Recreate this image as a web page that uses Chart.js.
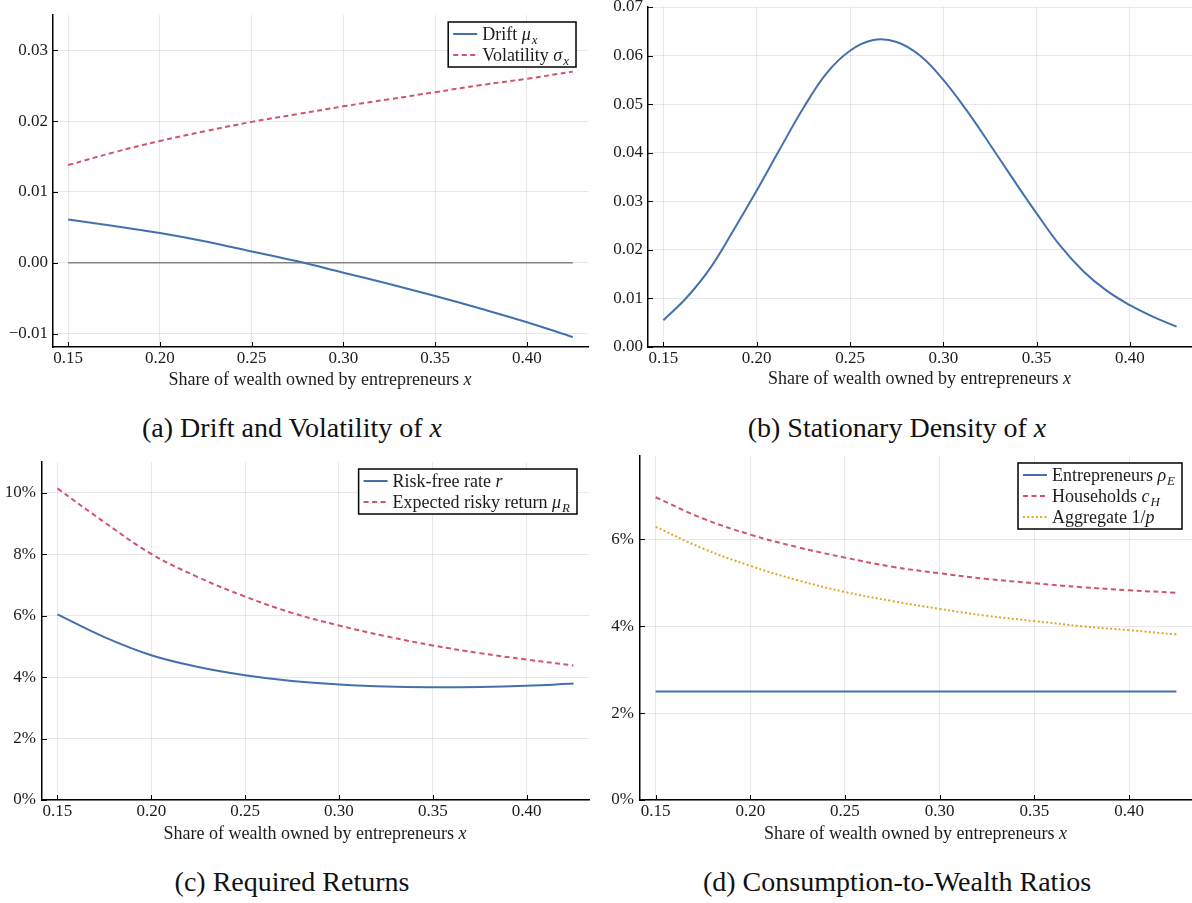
<!DOCTYPE html>
<html>
<head>
<meta charset="utf-8">
<script src="https://cdn.jsdelivr.net/npm/chart.js@4.4.1/dist/chart.umd.min.js"></script>
<style>
  html, body { margin: 0; padding: 0; background: #fff; }
  body { width: 1192px; height: 903px; position: relative; overflow: hidden;
         font-family: 'Liberation Serif', 'Times New Roman', serif; }
  canvas { position: absolute; }
  .cap { position: absolute; width: 596px; text-align: center; font-size: 28px;
         line-height: 32px; color: #111; white-space: nowrap; }
</style>
</head>
<body>
<canvas id="chartA" width="596" height="400" style="left:0;top:0"></canvas>
<canvas id="chartB" width="596" height="400" style="left:596px;top:0"></canvas>
<canvas id="chartC" width="596" height="400" style="left:0;top:450px"></canvas>
<canvas id="chartD" width="596" height="400" style="left:596px;top:450px"></canvas>
<div class="cap" style="left:-6px;top:412px">(a) Drift and Volatility of <i>x</i></div>
<div class="cap" style="left:599px;top:412px">(b) Stationary Density of <i>x</i></div>
<div class="cap" style="left:-6px;top:866px">(c) Required Returns</div>
<div class="cap" style="left:599px;top:866px">(d) Consumption-to-Wealth Ratios</div>

<script>
// ---- data ----
const xTicks = [0.15, 0.20, 0.25, 0.30, 0.35, 0.40];
const xAxisTitle = 'Share of wealth owned by entrepreneurs $x$';

// (a) drift and volatility of x
const xA = [0.15, 0.175, 0.20, 0.225, 0.25, 0.275, 0.30, 0.325, 0.35, 0.375, 0.40, 0.425];
const driftMu  = [0.0061, 0.0052, 0.0042, 0.0030, 0.0016, 0.0002, -0.0014, -0.0030, -0.0047, -0.0065, -0.0084, -0.0105];
const volSigma = [0.0138, 0.0156, 0.0172, 0.0186, 0.0199, 0.0210, 0.0221, 0.0231, 0.0241, 0.0251, 0.0260, 0.0270];
const zeroX = [0.15, 0.425];
const zeroY = [0, 0];
const yTicksA = [-0.01, 0.00, 0.01, 0.02, 0.03];

// (b) stationary density of x
const xB = [0.15, 0.1625, 0.175, 0.1875, 0.20, 0.2125, 0.225, 0.2375, 0.25, 0.2625, 0.275, 0.2875,
            0.30, 0.3125, 0.325, 0.3375, 0.35, 0.3625, 0.375, 0.3875, 0.40, 0.4125, 0.425];
const density = [0.0055, 0.0102, 0.0162, 0.0240, 0.0322, 0.0408, 0.0492, 0.0564, 0.0610, 0.0632, 0.0628, 0.0600,
                 0.0550, 0.0487, 0.0417, 0.0345, 0.0275, 0.0209, 0.0156, 0.0116, 0.0086, 0.0062, 0.0042];
const yTicksB = [0.00, 0.01, 0.02, 0.03, 0.04, 0.05, 0.06, 0.07];

// (c) required returns
const xC = [0.15, 0.175, 0.20, 0.225, 0.25, 0.275, 0.30, 0.325, 0.35, 0.375, 0.40, 0.425];
const riskFree    = [0.0604, 0.0530, 0.0471, 0.0433, 0.0406, 0.0387, 0.0376, 0.0369, 0.0367, 0.0368, 0.0372, 0.0379];
const riskyReturn = [0.1014, 0.0904, 0.0801, 0.0725, 0.0662, 0.0609, 0.0568, 0.0533, 0.0503, 0.0478, 0.0457, 0.0438];
const yTicksC = [0.00, 0.02, 0.04, 0.06, 0.08, 0.10];

// (d) consumption-to-wealth ratios
const xD = [0.15, 0.175, 0.20, 0.225, 0.25, 0.275, 0.30, 0.325, 0.35, 0.375, 0.40, 0.425];
const entrepreneursRho = [0.025, 0.025, 0.025, 0.025, 0.025, 0.025, 0.025, 0.025, 0.025, 0.025, 0.025, 0.025];
const householdsC      = [0.0697, 0.0648, 0.0611, 0.0582, 0.0558, 0.0537, 0.0522, 0.0509, 0.0499, 0.0490, 0.0483, 0.0477];
const aggregateP       = [0.0629, 0.0579, 0.0539, 0.0506, 0.0479, 0.0458, 0.0440, 0.0424, 0.0412, 0.0400, 0.0391, 0.0381];
const yTicksD = [0.00, 0.02, 0.04, 0.06];

// ---- styling ----
const SERIF = "'Liberation Serif', 'Times New Roman', serif";
const BLUE = '#4471ad';
const RED = '#d0556a';
const GOLD = '#e3a625';
const GRID = 'rgba(0,0,0,0.09)';
const TEXT = '#1c1c1c';
const TICK_FONT = { family: SERIF, size: 17 };
Chart.defaults.font.family = SERIF;
Chart.defaults.color = TEXT;

const pts = (xs, ys) => xs.map((x, i) => ({ x, y: ys[i] }));
const fmtDec = v => (v < 0 ? '\u2212' : '') + Math.abs(v).toFixed(2);
const fmtPct = v => Math.round(v * 100) + '%';

// ---- small math-text helper: $...$ is math (letters italic, "_" starts a subscript) ----
function parseRuns(str) {
  const runs = [];
  str.split('$').forEach((p, i) => {
    if (!p) return;
    if (i % 2 === 0) { runs.push({ t: p, it: false, sub: false }); return; }
    const [base, sub] = p.split('_');
    for (const ch of base) runs.push({ t: ch, it: /[A-Za-z\u03b1-\u03c9]/.test(ch), sub: false });
    if (sub) runs.push({ t: sub, it: true, sub: true });
  });
  return runs;
}
function runFont(r, size) {
  return (r.it ? 'italic ' : '') + (r.sub ? size * 0.72 : size) + 'px ' + SERIF;
}
function measureRuns(ctx, runs, size) {
  let w = 0;
  runs.forEach(r => { ctx.font = runFont(r, size); w += ctx.measureText(r.t).width + (r.it && !r.sub ? 1 : 0); });
  return w;
}
function drawRuns(ctx, runs, x, y, size) {
  runs.forEach(r => {
    ctx.font = runFont(r, size);
    ctx.fillText(r.t, x, y + (r.sub ? size * 0.22 : 0));
    x += ctx.measureText(r.t).width + (r.it && !r.sub ? 1 : 0);
  });
}

// ---- plugins ----
const inwardTicks = {
  id: 'inwardTicks',
  afterDatasetsDraw(chart) {
    const { ctx, chartArea: a, scales: { x, y } } = chart;
    ctx.save();
    ctx.strokeStyle = '#000';
    ctx.lineWidth = 1;
    ctx.beginPath();
    x.ticks.forEach(t => {
      const px = Math.round(x.getPixelForValue(t.value)) + 0.5;
      ctx.moveTo(px, a.bottom); ctx.lineTo(px, a.bottom - 5);
    });
    y.ticks.forEach(t => {
      const py = Math.round(y.getPixelForValue(t.value)) + 0.5;
      ctx.moveTo(a.left, py); ctx.lineTo(a.left + 5, py);
    });
    ctx.stroke();
    ctx.restore();
  }
};

const axisTitle = {
  id: 'axisTitle',
  afterDraw(chart, args, opts) {
    const { ctx, chartArea: a } = chart;
    const size = opts.size || 18;
    const runs = parseRuns(opts.text);
    const w = measureRuns(ctx, runs, size);
    ctx.save();
    ctx.fillStyle = TEXT;
    ctx.textBaseline = 'alphabetic';
    drawRuns(ctx, runs, (a.left + a.right) / 2 - w / 2, opts.baseline, size);
    ctx.restore();
  }
};

const boxLegend = {
  id: 'boxLegend',
  afterDraw(chart, args, opts) {
    const { ctx, chartArea: a } = chart;
    const items = chart.data.datasets.filter(d => !d.hideInLegend);
    if (!items.length) return;
    const size = 18, row = 21, sample = 24, gap = 5, padL = 5, padR = 7, padT = 12, padB = 12;
    const runsList = items.map(d => parseRuns(d.label));
    const textW = Math.max(...runsList.map(r => measureRuns(ctx, r, size)));
    const w = padL + sample + gap + textW + padR;
    const h = padT + row * (items.length - 1) + padB;
    const right = a.right - opts.right;
    const top = a.top + opts.top;
    const left = right - w;
    ctx.save();
    ctx.fillStyle = '#fff';
    ctx.fillRect(left, top, w, h);
    ctx.strokeStyle = '#000';
    ctx.lineWidth = 1.5;
    ctx.strokeRect(left, top, w, h);
    items.forEach((d, i) => {
      const cy = top + padT + i * row;
      ctx.strokeStyle = d.borderColor;
      ctx.lineWidth = d.borderWidth;
      ctx.setLineDash(d.borderDash || []);
      ctx.beginPath();
      ctx.moveTo(left + padL, cy);
      ctx.lineTo(left + padL + sample, cy);
      ctx.stroke();
      ctx.setLineDash([]);
      ctx.fillStyle = TEXT;
      ctx.textBaseline = 'alphabetic';
      drawRuns(ctx, runsList[i], left + padL + sample + gap, cy + size * 0.33, size);
    });
    ctx.restore();
  }
};

// ---- chart factory ----
function lineSet(label, xs, ys, color, dash, extra) {
  return Object.assign({
    label, data: pts(xs, ys), borderColor: color, borderWidth: 2, borderDash: dash,
    pointRadius: 0, fill: false, tension: 0.4
  }, extra || {});
}

function makePanel(id, p) {
  return new Chart(document.getElementById(id), {
    type: 'line',
    data: { datasets: p.datasets },
    options: {
      responsive: false,
      animation: false,
      devicePixelRatio: 1,
      layout: { padding: { left: 0, top: p.padTop, right: p.padRight, bottom: 0 } },
      plugins: {
        legend: { display: false },
        tooltip: { enabled: false },
        boxLegend: p.legend || { right: 11, top: 7 },
        axisTitle: { text: xAxisTitle, baseline: p.titleBaseline, size: 18 }
      },
      scales: {
        x: {
          type: 'linear', min: 0.14175, max: 0.43325,
          afterBuildTicks: s => { s.ticks = xTicks.map(v => ({ value: v })); },
          afterFit: s => { s.height = p.xHeight; s.paddingLeft = 0; s.paddingRight = 0; },
          grid: { color: GRID, lineWidth: 1, drawTicks: false },
          border: { display: true, color: '#000', width: 1.5 },
          ticks: { padding: 1, font: TICK_FONT, color: TEXT, maxRotation: 0, autoSkip: false,
                   callback: v => v.toFixed(2) }
        },
        y: {
          type: 'linear', min: p.yMin, max: p.yMax,
          afterBuildTicks: s => { s.ticks = p.yTicks.map(v => ({ value: v })); },
          afterFit: s => { s.width = p.yWidth; s.paddingTop = 0; s.paddingBottom = 0; },
          grid: { color: GRID, lineWidth: 1, drawTicks: false },
          border: { display: true, color: '#000', width: 1.5 },
          ticks: { padding: p.yPad, font: TICK_FONT, color: TEXT, autoSkip: false,
                   callback: p.yFmt }
        }
      }
    },
    plugins: [inwardTicks, boxLegend, axisTitle]
  });
}

makePanel('chartA', {
  datasets: [
    lineSet('Drift $\u03bc_x$', xA, driftMu, BLUE, []),
    lineSet('Volatility $\u03c3_x$', xA, volSigma, RED, [5, 3.5]),
    lineSet('', zeroX, zeroY, '#858585', [], { borderWidth: 1.3, hideInLegend: true, tension: 0 })
  ],
  yMin: -0.0119, yMax: 0.035, yTicks: yTicksA, yFmt: fmtDec,
  padTop: 15, padRight: 8, yWidth: 53, xHeight: 53, yPad: 5, titleBaseline: 385,
  legend: { right: 12, top: 7 }
});

makePanel('chartB', {
  datasets: [ lineSet('', xB, density, BLUE, [], { hideInLegend: true }) ],
  yMin: 0, yMax: 0.07, yTicks: yTicksB, yFmt: fmtDec,
  padTop: 7, padRight: 0, yWidth: 52, xHeight: 53, yPad: 5, titleBaseline: 384
});

makePanel('chartC', {
  datasets: [
    lineSet('Risk-free rate $r$', xC, riskFree, BLUE, []),
    lineSet('Expected risky return $\u03bc_R$', xC, riskyReturn, RED, [5, 3.5])
  ],
  yMin: 0, yMax: 0.11, yTicks: yTicksC, yFmt: fmtPct,
  padTop: 12, padRight: 7, yWidth: 42, xHeight: 50, yPad: 6, titleBaseline: 388.5,
  legend: { right: 12, top: 7 }
});

makePanel('chartD', {
  datasets: [
    lineSet('Entrepreneurs $\u03c1_E$', xD, entrepreneursRho, BLUE, []),
    lineSet('Households $c_H$', xD, householdsC, RED, [5, 3.5]),
    lineSet('Aggregate $1/p$', xD, aggregateP, GOLD, [2, 2.3])
  ],
  yMin: 0, yMax: 0.0792, yTicks: yTicksD, yFmt: fmtPct,
  padTop: 6, padRight: 0, yWidth: 44, xHeight: 50, yPad: 6, titleBaseline: 389,
  legend: { right: 10, top: 7 }
});
</script>
</body>
</html>
